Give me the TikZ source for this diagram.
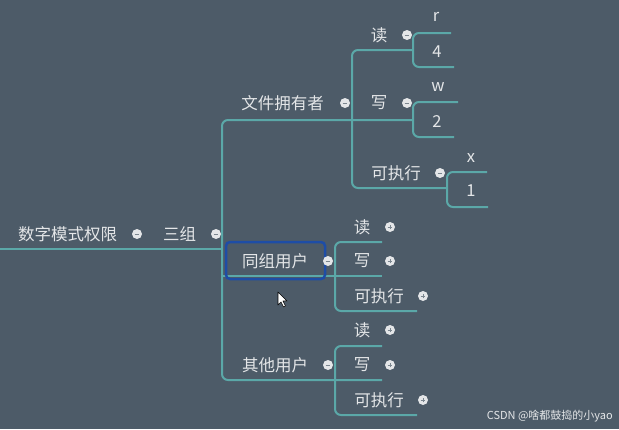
\documentclass[tikz,border=0pt]{standalone}
\usepackage{fontspec}
\setmainfont{Noto Sans CJK SC}
\definecolor{bg}{HTML}{4D5B68}
\definecolor{ln}{HTML}{5BA8A8}
\definecolor{tx}{HTML}{E4E6E8}
\definecolor{bx}{HTML}{1E4DA6}
\begin{document}
\begin{tikzpicture}[x=1pt,y=-1pt,
  lbl/.style={inner sep=0pt, text=tx, font=\fontsize{16.5}{17}\selectfont},
  wm/.style={inner sep=0pt, text=tx, font=\fontsize{11}{12}\selectfont},
  br/.style={draw=ln, line width=2pt, rounded corners=6pt},
  dotm/.style={circle, fill=tx, minimum size=10pt, inner sep=0pt,
    path picture={\draw[bg!70!tx, line width=1pt] ([xshift=-2.4pt]path picture bounding box.center) -- ([xshift=2.4pt]path picture bounding box.center);}},
  dotp/.style={circle, fill=tx, minimum size=10pt, inner sep=0pt,
    path picture={\draw[bg!70!tx, line width=1pt] ([xshift=-2.4pt]path picture bounding box.center) -- ([xshift=2.4pt]path picture bounding box.center);
      \draw[bg!70!tx, line width=1pt] ([yshift=-2.4pt]path picture bounding box.center) -- ([yshift=2.4pt]path picture bounding box.center);}}
]
\fill[bg] (0,0) rectangle (619,429);
\useasboundingbox (0,0) rectangle (619,429);

% junction coordinates
\coordinate (rootL) at (0,249);
\coordinate (rootR) at (222,249);
% main branches
\draw[br] (413,120) -- (222,120) -- (222,380) -- (382,380);
\draw[br] (rootL) -- (rootR);
\draw[br] (222,276) -- (382,276);
% owner children
\draw[br] (413,50) -- (352,50) -- (352,188) -- (447,188);
\draw[br] (451,33) -- (413,33) -- (413,67) -- (454,67);
\draw[br] (458,102) -- (413,102) -- (413,137) -- (454,137);
\draw[br] (487,172) -- (447,172) -- (447,207) -- (488,207);
% group children
\draw[br] (382,242) -- (335,242) -- (335,311) -- (417,311);
% others children
\draw[br] (382,346) -- (335,346) -- (335,415) -- (417,415);

% texts
\node[lbl] (root) at (67.5,234) {数字模式权限};
\node[lbl] (sanzu) at (179.5,234) {三组};
\node[lbl] (owner) at (282.5,103) {文件拥有者};
\node[lbl] (or) at (379,35) {读};
\node[lbl] (orr) at (436,17) {r};
\node[lbl] (or4) at (437,52) {4};
\node[lbl] (ow) at (379,103) {写};
\node[lbl] (oww) at (438,87) {w};
\node[lbl] (ow2) at (437,122) {2};
\node[lbl] (ox) at (396,173) {可执行};
\node[lbl] (oxx) at (471,158) {x};
\node[lbl] (ox1) at (471,191) {1};

\node[lbl] (group) at (275,261) {同组用户};
\draw[bx, line width=2.5pt, rounded corners=4pt] (226,242) rectangle (325,279);
\node[lbl] (gr) at (362,227) {读};
\node[lbl] (gw) at (362,261) {写};
\node[lbl] (gx) at (379,296) {可执行};

\node[lbl] (other) at (275,365) {其他用户};
\node[lbl] (tr) at (362,330) {读};
\node[lbl] (tw) at (362,365) {写};
\node[lbl] (tx) at (379,400) {可执行};

% dots
\node[dotm] (d1) at (137,234) {};
\node[dotm] (d2) at (216,234) {};
\node[dotm] (d3) at (345,103) {};
\node[dotm] (d4) at (407,35) {};
\node[dotm] (d5) at (407,103) {};
\node[dotm] (d6) at (440,173) {};
\node[dotm] (d7) at (328,261) {};
\node[dotp] (d8) at (390,227) {};
\node[dotp] (d9) at (390,261) {};
\node[dotp] (d10) at (423,296) {};
\node[dotm] (d11) at (328,365) {};
\node[dotp] (d12) at (390,330) {};
\node[dotp] (d13) at (390,365) {};
\node[dotp] (d14) at (423,400) {};

% cursor
\filldraw[fill=white, draw=black, line width=0.6pt, line join=round]
  (278,292) -- (278,305) -- (281,302) -- (283.5,307) -- (285.5,306) -- (283,301) -- (287,301) -- cycle;

% watermark
\node[wm, anchor=east] (mark) at (613,416) {CSDN @啥都鼓捣的小yao};
\end{tikzpicture}
\end{document}
